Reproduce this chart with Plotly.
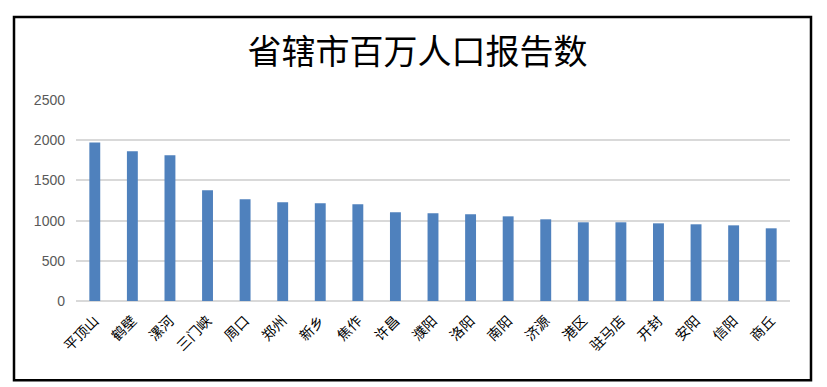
import plotly.graph_objects as go

categories = ["平顶山", "鹤壁", "漯河", "三门峡", "周口", "郑州", "新乡", "焦作", "许昌", "濮阳",
              "洛阳", "南阳", "济源", "港区", "驻马店", "开封", "安阳", "信阳", "商丘"]
values = [1970, 1862, 1812, 1377, 1265, 1228, 1215, 1203, 1103, 1091,
          1078, 1053, 1016, 979, 979, 966, 954, 941, 904]
y_ticks = [0, 500, 1000, 1500, 2000, 2500]
title_text = "省辖市百万人口报告数"

fig = go.Figure(go.Bar(x=categories, y=values, marker=dict(color="#4F81BD", line=dict(width=0)),
                       width=0.29))

fig.update_layout(
    width=827, height=387,
    margin=dict(l=76, r=37, t=100, b=86),
    paper_bgcolor="white", plot_bgcolor="white",
    showlegend=False,
    title=dict(text=title_text, x=417.5 / 827, xanchor="center", xref="container",
               y=1 - 52 / 387, yanchor="middle",
               font=dict(family="Noto Sans CJK SC", size=34, color="black")),
    xaxis=dict(tickangle=-45, tickfont=dict(family="Noto Sans CJK SC", size=14, color="black"),
               showgrid=False, showline=False, ticks="", zeroline=False, ticklabelstandoff=8),
    yaxis=dict(range=[0, 2500], tickvals=y_ticks, ticktext=[str(v) for v in y_ticks],
               tickfont=dict(family="Liberation Sans", size=14, color="#595959"),
               showgrid=True, gridcolor="#D9D9D9", gridwidth=1.5,
               zeroline=True, zerolinecolor="#D9D9D9", zerolinewidth=2,
               showline=False, ticks="", ticklabelstandoff=10),
    shapes=[dict(type="rect", xref="paper", yref="paper",
                 x0=(14 - 76) / 714, x1=(811 - 76) / 714,
                 y0=(300.7 - 380) / 201, y1=1 + (100 - 17) / 201,
                 line=dict(color="black", width=2.5), fillcolor="rgba(0,0,0,0)", layer="below")],
)

fig.write_html("out.html", config={"displayModeBar": False},
               post_script="document.body.style.margin='0';document.body.style.padding='0';")
